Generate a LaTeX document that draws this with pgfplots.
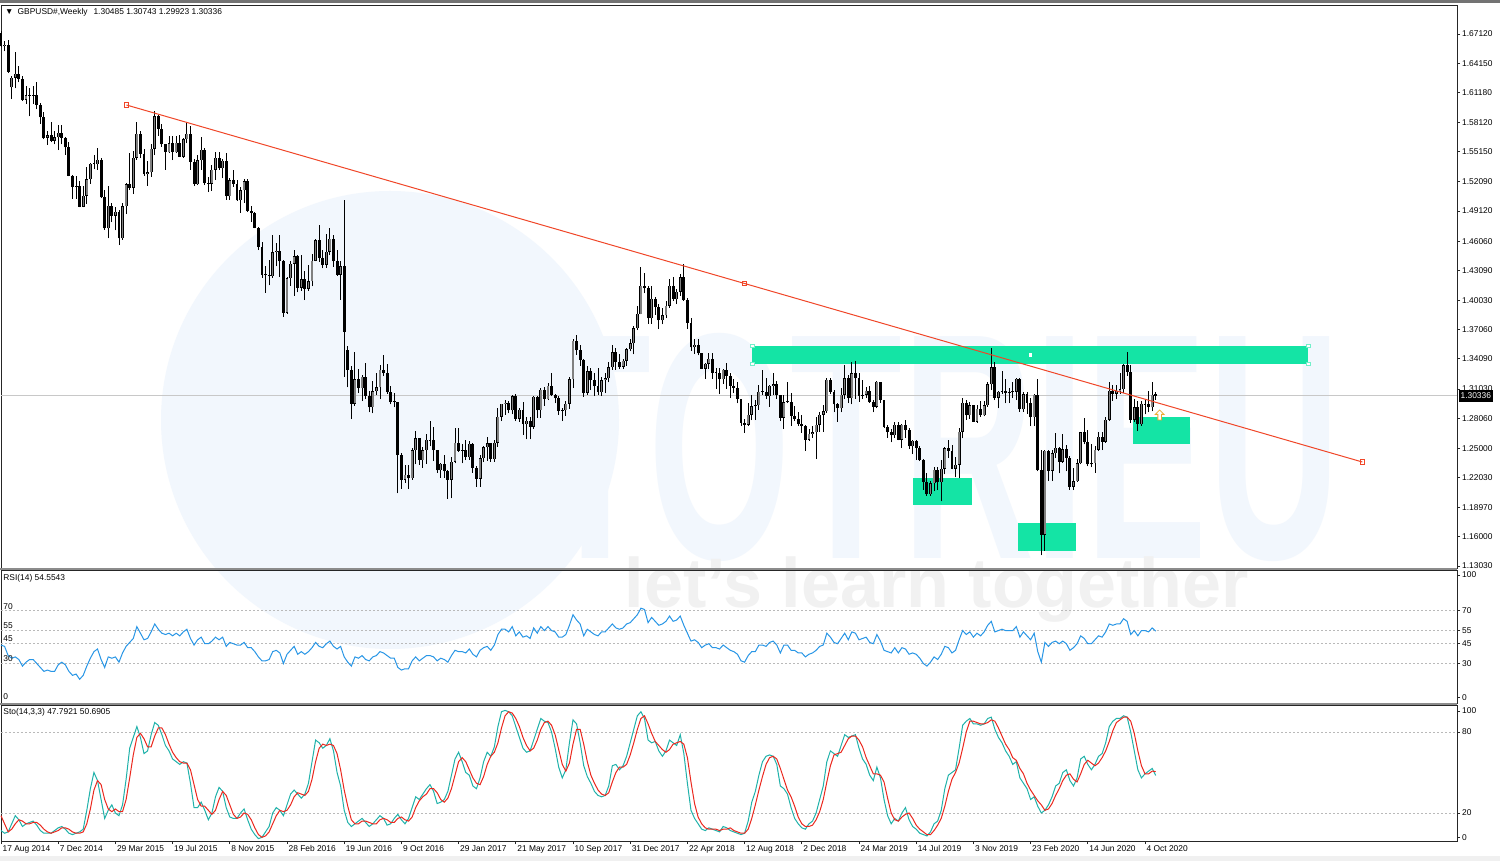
\documentclass[border=0pt]{standalone}
\usepackage{fontspec}
\setmainfont{Liberation Sans}
\usepackage{pgfplots}
\usepackage{pgfplotstable}
\pgfplotsset{compat=1.18}

\definecolor{mint}{RGB}{20,228,165}
\definecolor{trend}{RGB}{240,70,40}
\definecolor{bull}{RGB}{128,128,128}
\definecolor{rsiblue}{RGB}{40,150,230}
\definecolor{stomain}{RGB}{32,178,170}
\definecolor{stosig}{RGB}{235,40,30}
\definecolor{lvl}{RGB}{185,185,185}
\definecolor{pline}{RGB}{200,200,200}
\definecolor{wmblue}{RGB}{242,247,253}
\definecolor{wmgray}{RGB}{241,241,241}
\definecolor{arrowc}{RGB}{235,170,50}

\newcommand\tl{\fontsize{4.2}{5}\selectfont}

\pgfdeclareplotmark{hollowup}{%
  \pgfpathmoveto{\pgfqpoint{0pt}{2.5pt}}%
  \pgfpathlineto{\pgfqpoint{2.2pt}{0.3pt}}%
  \pgfpathlineto{\pgfqpoint{0.9pt}{0.3pt}}%
  \pgfpathlineto{\pgfqpoint{0.9pt}{-2.5pt}}%
  \pgfpathlineto{\pgfqpoint{-0.9pt}{-2.5pt}}%
  \pgfpathlineto{\pgfqpoint{-0.9pt}{0.3pt}}%
  \pgfpathlineto{\pgfqpoint{-2.2pt}{0.3pt}}%
  \pgfpathclose
  \pgfusepathqfillstroke}

% weekly GBPUSD candles, 17 Aug 2014 .. 25 Oct 2020 (row = week number)
\pgfplotstableread{
o h l c
1.6720 1.6745 1.6575 1.6585
1.6585 1.6640 1.6535 1.6600
1.6600 1.6650 1.6315 1.6330
1.6170 1.6280 1.6050 1.6265
1.6265 1.6525 1.6160 1.6310
1.6310 1.6385 1.6220 1.6255
1.6255 1.6280 1.6030 1.6045
1.6045 1.6185 1.6000 1.6090
1.6090 1.6160 1.5875 1.6085
1.6085 1.6185 1.6000 1.6095
1.6095 1.6225 1.5945 1.5995
1.5995 1.6010 1.5795 1.5865
1.5865 1.5920 1.5640 1.5655
1.5655 1.5730 1.5585 1.5680
1.5680 1.5815 1.5610 1.5625
1.5625 1.5730 1.5590 1.5660
1.5660 1.5785 1.5530 1.5710
1.5710 1.5785 1.5590 1.5655
1.5655 1.5665 1.5485 1.5560
1.5560 1.5615 1.5265 1.5270
1.5270 1.5280 1.5035 1.5160
1.5160 1.5270 1.5035 1.5165
1.5165 1.5215 1.4950 1.4955
1.4955 1.5165 1.4950 1.5065
1.5065 1.5355 1.4985 1.5235
1.5235 1.5405 1.5190 1.5395
1.5395 1.5485 1.5335 1.5390
1.5390 1.5550 1.5330 1.5435
1.5435 1.5450 1.5040 1.5050
1.5050 1.5130 1.4720 1.4735
1.4735 1.5165 1.4635 1.4965
1.4965 1.4995 1.4800 1.4865
1.4865 1.4955 1.4715 1.4905
1.4905 1.4920 1.4565 1.4635
1.4635 1.4995 1.4620 1.4960
1.4960 1.5195 1.4880 1.5185
1.5185 1.5500 1.5125 1.5150
1.5150 1.5525 1.5085 1.5455
1.5455 1.5815 1.5435 1.5700
1.5700 1.5725 1.5450 1.5495
1.5495 1.5545 1.5270 1.5285
1.5285 1.5420 1.5170 1.5305
1.5305 1.5590 1.5260 1.5545
1.5545 1.5930 1.5480 1.5875
1.5875 1.5890 1.5675 1.5745
1.5745 1.5795 1.5565 1.5590
1.5590 1.5595 1.5330 1.5510
1.5510 1.5675 1.5505 1.5600
1.5600 1.5675 1.5430 1.5510
1.5510 1.5675 1.5500 1.5605
1.5605 1.5690 1.5460 1.5465
1.5465 1.5650 1.5455 1.5640
1.5640 1.5815 1.5600 1.5700
1.5700 1.5780 1.5330 1.5415
1.5415 1.5440 1.5165 1.5185
1.5185 1.5480 1.5175 1.5430
1.5430 1.5660 1.5330 1.5535
1.5535 1.5555 1.5175 1.5195
1.5195 1.5260 1.5105 1.5190
1.5190 1.5385 1.5120 1.5330
1.5330 1.5510 1.5225 1.5455
1.5455 1.5510 1.5330 1.5345
1.5345 1.5440 1.5245 1.5425
1.5425 1.5505 1.5025 1.5060
1.5060 1.5245 1.5025 1.5225
1.5225 1.5330 1.5160 1.5185
1.5185 1.5230 1.5015 1.5020
1.5020 1.5155 1.4895 1.5125
1.5125 1.5240 1.4995 1.5215
1.5215 1.5240 1.4900 1.4915
1.4915 1.4960 1.4805 1.4895
1.4895 1.4900 1.4735 1.4740
1.4740 1.4745 1.4515 1.4550
1.4550 1.4600 1.4235 1.4265
1.4265 1.4350 1.4080 1.4260
1.4260 1.4415 1.4155 1.4250
1.4250 1.4665 1.4235 1.4495
1.4495 1.4590 1.4350 1.4510
1.4510 1.4670 1.4245 1.4400
1.4400 1.4410 1.3835 1.3880
1.3880 1.4240 1.3870 1.4230
1.4230 1.4400 1.4150 1.4375
1.4375 1.4515 1.4050 1.4450
1.4450 1.4460 1.4085 1.4130
1.4130 1.4460 1.4100 1.4220
1.4220 1.4300 1.4005 1.4120
1.4120 1.4360 1.4100 1.4200
1.4200 1.4470 1.4145 1.4405
1.4405 1.4630 1.4400 1.4615
1.4615 1.4770 1.4395 1.4435
1.4435 1.4515 1.4330 1.4365
1.4365 1.4680 1.4335 1.4500
1.4500 1.4735 1.4460 1.4630
1.4630 1.4665 1.4345 1.4400
1.4400 1.4515 1.4255 1.4265
1.4265 1.4405 1.4010 1.4350
1.4350 1.5020 1.3225 1.3680
1.3500 1.3540 1.3120 1.3300
1.3300 1.3340 1.2795 1.2950
1.2950 1.3480 1.2930 1.3200
1.3200 1.3305 1.3060 1.3110
1.3110 1.3240 1.2980 1.3225
1.3225 1.3370 1.3000 1.3030
1.3030 1.3080 1.2865 1.2915
1.2915 1.3185 1.2855 1.3080
1.3080 1.3260 1.3045 1.3120
1.3120 1.3345 1.3000 1.3300
1.3300 1.3445 1.3230 1.3265
1.3265 1.3355 1.3055 1.3070
1.3070 1.3135 1.2945 1.2970
1.2970 1.3060 1.2915 1.2975
1.2975 1.2975 1.2040 1.2430
1.2430 1.2455 1.2090 1.2180
1.2180 1.2330 1.2150 1.2230
1.2230 1.2330 1.2085 1.2195
1.2195 1.2500 1.2180 1.2480
1.2480 1.2675 1.2335 1.2600
1.2600 1.2600 1.2330 1.2380
1.2380 1.2515 1.2300 1.2480
1.2480 1.2640 1.2340 1.2585
1.2585 1.2775 1.2520 1.2580
1.2580 1.2720 1.2370 1.2480
1.2480 1.2480 1.2250 1.2275
1.2275 1.2350 1.2200 1.2340
1.2340 1.2435 1.2200 1.2265
1.2265 1.2280 1.1985 1.2180
1.2180 1.2415 1.1990 1.2365
1.2365 1.2705 1.2345 1.2555
1.2555 1.2705 1.2460 1.2475
1.2475 1.2545 1.2345 1.2480
1.2480 1.2580 1.2380 1.2410
1.2410 1.2570 1.2385 1.2545
1.2545 1.2550 1.2250 1.2300
1.2300 1.2315 1.2110 1.2190
1.2190 1.2430 1.2110 1.2400
1.2400 1.2520 1.2360 1.2510
1.2510 1.2615 1.2375 1.2550
1.2550 1.2550 1.2365 1.2390
1.2390 1.2580 1.2365 1.2555
1.2555 1.2905 1.2515 1.2820
1.2820 1.2950 1.2775 1.2950
1.2950 1.2990 1.2840 1.2965
1.2965 1.2985 1.2855 1.2885
1.2885 1.3045 1.2845 1.3030
1.3030 1.3050 1.2775 1.2800
1.2800 1.2910 1.2770 1.2890
1.2890 1.2975 1.2635 1.2745
1.2745 1.2815 1.2590 1.2780
1.2780 1.2815 1.2590 1.2720
1.2720 1.3030 1.2700 1.3025
1.3025 1.3030 1.2810 1.2885
1.2885 1.3115 1.2810 1.3095
1.3095 1.3125 1.2930 1.3000
1.3000 1.3165 1.2990 1.3135
1.3135 1.3270 1.3030 1.3040
1.3040 1.3050 1.2955 1.3010
1.3010 1.3030 1.2840 1.2880
1.2880 1.2905 1.2775 1.2885
1.2885 1.2980 1.2830 1.2950
1.2950 1.3220 1.2900 1.3200
1.3200 1.3615 1.3110 1.3595
1.3595 1.3655 1.3450 1.3495
1.3495 1.3550 1.3340 1.3395
1.3395 1.3405 1.3025 1.3065
1.3065 1.3340 1.3040 1.3285
1.3285 1.3320 1.3090 1.3190
1.3190 1.3260 1.3030 1.3130
1.3130 1.3320 1.3040 1.3070
1.3070 1.3225 1.3030 1.3190
1.3190 1.3260 1.3060 1.3210
1.3210 1.3380 1.3170 1.3325
1.3325 1.3550 1.3300 1.3475
1.3475 1.3520 1.3300 1.3380
1.3380 1.3460 1.3305 1.3330
1.3330 1.3410 1.3305 1.3390
1.3390 1.3515 1.3340 1.3505
1.3505 1.3615 1.3485 1.3565
1.3565 1.3745 1.3455 1.3720
1.3720 1.3945 1.3700 1.3865
1.3865 1.4345 1.3860 1.4150
1.4150 1.4285 1.4075 1.4125
1.4125 1.4145 1.3765 1.3820
1.3820 1.4145 1.3765 1.4020
1.4020 1.4035 1.3855 1.3935
1.3935 1.3970 1.3710 1.3800
1.3800 1.3930 1.3760 1.3850
1.3850 1.4000 1.3820 1.3950
1.3950 1.4220 1.3930 1.4150
1.4150 1.4245 1.4000 1.4015
1.4015 1.4120 1.3965 1.4090
1.4090 1.4275 1.4050 1.4240
1.4240 1.4375 1.3995 1.4010
1.4010 1.4030 1.3710 1.3775
1.3775 1.3825 1.3490 1.3525
1.3525 1.3615 1.3460 1.3550
1.3550 1.3615 1.3445 1.3465
1.3465 1.3470 1.3305 1.3310
1.3310 1.3370 1.3205 1.3360
1.3360 1.3470 1.3310 1.3410
1.3410 1.3470 1.3205 1.3270
1.3270 1.3315 1.3100 1.3265
1.3265 1.3315 1.3050 1.3200
1.3200 1.3310 1.3155 1.3300
1.3300 1.3365 1.3105 1.3235
1.3235 1.3265 1.3010 1.3135
1.3135 1.3200 1.3060 1.3115
1.3115 1.3170 1.2955 1.3000
1.3000 1.3005 1.2725 1.2760
1.2760 1.2800 1.2660 1.2740
1.2740 1.2965 1.2725 1.2840
1.2840 1.3045 1.2785 1.2925
1.2925 1.2990 1.2785 1.2935
1.2935 1.3145 1.2890 1.3075
1.3075 1.3300 1.3045 1.3070
1.3070 1.3215 1.3000 1.3030
1.3030 1.3145 1.2920 1.3135
1.3135 1.3260 1.3045 1.3150
1.3150 1.3185 1.3000 1.3045
1.3045 1.3045 1.2775 1.2810
1.2810 1.3045 1.2695 1.2970
1.2970 1.3175 1.2960 1.2975
1.2975 1.3060 1.2725 1.2830
1.2830 1.2930 1.2775 1.2795
1.2795 1.2865 1.2725 1.2745
1.2745 1.2840 1.2660 1.2725
1.2725 1.2735 1.2475 1.2585
1.2585 1.2700 1.2575 1.2645
1.2645 1.2730 1.2605 1.2665
1.2665 1.2815 1.2390 1.2740
1.2740 1.2865 1.2670 1.2840
1.2840 1.2935 1.2670 1.2875
1.2875 1.3215 1.2860 1.3195
1.3195 1.3215 1.3050 1.3075
1.3075 1.3095 1.2865 1.2945
1.2945 1.2955 1.2770 1.2905
1.2905 1.3110 1.2865 1.3045
1.3045 1.3350 1.3000 1.3210
1.3210 1.3245 1.2960 1.3010
1.3010 1.3380 1.2945 1.3260
1.3260 1.3385 1.3005 1.3210
1.3210 1.3270 1.2975 1.3035
1.3035 1.3195 1.3000 1.3045
1.3045 1.3125 1.3010 1.3085
1.3085 1.3135 1.2965 1.2970
1.2970 1.2995 1.2865 1.2920
1.2920 1.3180 1.2905 1.3175
1.3175 1.3175 1.2965 1.2990
1.2990 1.2995 1.2705 1.2715
1.2715 1.2740 1.2605 1.2665
1.2665 1.2695 1.2560 1.2630
1.2630 1.2765 1.2605 1.2740
1.2740 1.2765 1.2580 1.2585
1.2585 1.2745 1.2505 1.2740
1.2740 1.2785 1.2605 1.2690
1.2690 1.2710 1.2490 1.2520
1.2520 1.2580 1.2440 1.2575
1.2575 1.2580 1.2380 1.2500
1.2500 1.2520 1.2370 1.2380
1.2380 1.2390 1.2080 1.2160
1.2160 1.2250 1.2015 1.2030
1.2030 1.2170 1.2015 1.2145
1.2145 1.2310 1.2065 1.2280
1.2280 1.2310 1.2075 1.2155
1.2155 1.2385 1.1960 1.2290
1.2290 1.2510 1.2235 1.2500
1.2500 1.2585 1.2400 1.2475
1.2475 1.2530 1.2285 1.2290
1.2290 1.2410 1.2205 1.2330
1.2330 1.2710 1.2195 1.2670
1.2670 1.3010 1.2600 1.2960
1.2960 1.2990 1.2790 1.2835
1.2835 1.2975 1.2800 1.2935
1.2935 1.2935 1.2765 1.2770
1.2770 1.2935 1.2760 1.2900
1.2900 1.2985 1.2820 1.2835
1.2835 1.2980 1.2825 1.2935
1.2935 1.3175 1.2920 1.3150
1.3150 1.3515 1.3095 1.3325
1.3325 1.3375 1.2990 1.3015
1.3015 1.3080 1.2905 1.3075
1.3075 1.3285 1.3050 1.3085
1.3085 1.3200 1.2955 1.3060
1.3060 1.3115 1.2960 1.3070
1.3070 1.3175 1.3010 1.3075
1.3075 1.3210 1.2990 1.3205
1.3205 1.3210 1.2870 1.2895
1.2895 1.3070 1.2870 1.3050
1.3050 1.3070 1.2850 1.2960
1.2960 1.3010 1.2725 1.2815
1.2815 1.3050 1.2725 1.3045
1.3045 1.3200 1.2265 1.2280
1.2280 1.2485 1.1410 1.1620
1.1620 1.2485 1.1460 1.2475
1.2475 1.2485 1.2165 1.2270
1.2270 1.2485 1.2165 1.2450
1.2450 1.2650 1.2400 1.2505
1.2505 1.2515 1.2245 1.2365
1.2365 1.2645 1.2350 1.2490
1.2490 1.2530 1.2265 1.2405
1.2405 1.2420 1.2080 1.2110
1.2110 1.2295 1.2075 1.2165
1.2165 1.2395 1.2160 1.2345
1.2345 1.2670 1.2335 1.2665
1.2665 1.2810 1.2540 1.2565
1.2565 1.2685 1.2315 1.2335
1.2335 1.2545 1.2305 1.2345
1.2345 1.2520 1.2250 1.2485
1.2485 1.2670 1.2470 1.2615
1.2615 1.2670 1.2480 1.2565
1.2565 1.2815 1.2555 1.2790
1.2790 1.3170 1.2775 1.3085
1.3085 1.3145 1.2985 1.3055
1.3055 1.3145 1.3000 1.3085
1.3085 1.3265 1.3055 1.3100
1.3100 1.3355 1.3060 1.3345
1.3345 1.3480 1.3235 1.3280
1.3280 1.3345 1.2760 1.2790
1.2790 1.3005 1.2765 1.2915
1.2915 1.2985 1.2675 1.2745
1.2745 1.2985 1.2730 1.2950
1.2950 1.3000 1.2845 1.2945
1.2945 1.3080 1.2865 1.2915
1.2915 1.3175 1.2875 1.3045
1.30485 1.30743 1.29923 1.30336
}\candles

% RSI(14), one value per week
\pgfplotstableread[row sep=\\]{
r\\
44\\43\\36\\34\\35\\33\\28\\31\\33\\33\\30\\27\\24\\25\\24\\24\\
29\\31\\29\\24\\21\\22\\18\\21\\28\\34\\39\\41\\33\\27\\35\\34\\
35\\31\\38\\43\\46\\49\\58\\53\\48\\49\\54\\60\\56\\53\\52\\53\\
51\\53\\51\\54\\56\\49\\44\\48\\50\\45\\45\\47\\50\\48\\50\\43\\
46\\45\\44\\44\\46\\42\\42\\39\\35\\32\\32\\33\\39\\40\\38\\30\\
37\\40\\43\\37\\39\\37\\39\\42\\46\\43\\42\\45\\47\\43\\41\\43\\
35\\31\\28\\35\\34\\36\\33\\32\\35\\36\\39\\38\\36\\34\\34\\27\\
25\\26\\26\\32\\35\\32\\34\\36\\36\\35\\32\\34\\33\\31\\36\\40\\
39\\39\\38\\41\\37\\35\\40\\42\\43\\40\\44\\52\\56\\56\\54\\58\\
51\\54\\50\\51\\49\\57\\53\\58\\55\\58\\55\\54\\50\\50\\52\\59\\
67\\63\\60\\51\\56\\54\\52\\51\\54\\54\\57\\60\\57\\56\\57\\60\\
61\\64\\67\\72\\71\\61\\65\\62\\59\\60\\62\\66\\62\\63\\66\\59\\
53\\47\\48\\46\\42\\44\\45\\42\\42\\41\\44\\42\\40\\39\\37\\32\\
31\\36\\39\\39\\44\\44\\43\\46\\47\\44\\38\\44\\44\\40\\40\\38\\
38\\35\\37\\38\\40\\43\\44\\53\\50\\46\\45\\49\\53\\48\\54\\53\\
48\\49\\50\\46\\45\\52\\47\\40\\39\\38\\42\\38\\42\\41\\37\\38\\
37\\34\\30\\28\\31\\35\\33\\37\\43\\42\\38\\40\\48\\55\\52\\54\\
50\\53\\51\\54\\59\\62\\54\\55\\56\\55\\55\\55\\58\\50\\54\\51\\
48\\53\\39\\31\\46\\43\\46\\47\\45\\47\\45\\40\\42\\45\\51\\49\\
45\\45\\48\\51\\50\\54\\60\\59\\60\\60\\64\\62\\52\\55\\51\\55\\
55\\54\\57\\54.55\\
}\rsi

% Sto(14,3,3): k = main, d = signal
\pgfplotstableread[row sep=\\]{
k d\\
7 18\\5 12\\6 6\\12 8\\18 12\\15 15\\10 14\\12 12\\13 12\\14 13\\11 13\\7 11\\5 8\\5 6\\5 5\\7 6\\
9 7\\10 9\\8 9\\5 8\\4 6\\5 5\\6 5\\8 6\\22 12\\38 23\\50 37\\44 44\\30 41\\16 30\\22 23\\26 21\\
20 23\\18 21\\26 21\\45 30\\68 46\\76 63\\84 76\\76 79\\64 75\\66 69\\78 69\\87 77\\85 83\\78 83\\70 78\\66 71\\
60 65\\58 61\\56 58\\58 57\\57 57\\42 52\\24 41\\24 30\\28 25\\22 25\\15 22\\20 19\\32 22\\39 30\\36 36\\24 33\\
17 26\\16 19\\16 16\\20 17\\23 20\\15 19\\8 15\\4 9\\1 4\\2 2\\6 3\\10 6\\20 12\\24 18\\22 22\\18 21\\
26 22\\34 26\\37 32\\34 35\\31 34\\34 33\\42 36\\58 45\\74 58\\72 68\\68 71\\70 70\\75 71\\66 70\\50 64\\40 52\\
22 37\\13 25\\10 15\\12 12\\14 12\\16 14\\13 14\\10 13\\12 12\\15 12\\18 15\\16 16\\11 15\\12 13\\16 13\\19 16\\
15 17\\12 15\\16 14\\24 17\\32 24\\30 29\\34 32\\38 34\\41 38\\36 38\\27 35\\28 30\\30 28\\36 31\\48 38\\60 48\\
65 58\\58 61\\50 58\\48 52\\40 46\\38 42\\46 41\\58 47\\65 56\\62 62\\69 65\\84 72\\95 83\\96 92\\95 95\\92 94\\
84 90\\76 84\\68 76\\65 70\\66 66\\74 68\\82 74\\90 82\\88 87\\87 88\\80 85\\68 78\\54 67\\46 56\\52 51\\72 57\\
89 71\\86 82\\72 82\\55 71\\47 58\\42 48\\36 42\\33 37\\32 34\\33 33\\40 35\\55 43\\56 50\\52 54\\55 54\\62 56\\
72 63\\82 72\\92 82\\95 90\\90 92\\74 86\\72 79\\73 73\\66 70\\62 67\\66 65\\74 67\\72 71\\70 72\\78 73\\64 71\\
42 61\\22 43\\16 27\\12 17\\8 12\\7 9\\9 8\\8 8\\7 8\\6 7\\10 8\\9 8\\7 9\\6 7\\5 6\\4 5\\
5 5\\14 8\\28 16\\36 26\\48 37\\58 47\\62 56\\63 61\\62 62\\56 60\\40 53\\38 45\\34 37\\24 32\\16 25\\12 17\\
9 12\\8 10\\12 10\\14 11\\20 15\\30 21\\40 30\\58 43\\66 55\\64 63\\62 64\\70 65\\78 70\\76 75\\77 77\\78 77\\
68 74\\60 69\\56 61\\48 55\\44 49\\54 49\\46 48\\30 43\\18 31\\12 20\\16 15\\14 14\\20 17\\24 19\\15 20\\10 16\\
8 11\\5 8\\4 6\\3 4\\6 4\\12 7\\14 11\\22 16\\38 25\\48 36\\50 45\\52 50\\68 57\\85 68\\88 80\\90 88\\
86 88\\86 87\\85 86\\86 86\\90 87\\91 89\\82 88\\76 83\\72 77\\66 71\\62 67\\56 61\\58 59\\46 53\\42 49\\38 42\\
30 37\\32 33\\25 29\\20 26\\22 22\\26 23\\32 27\\40 33\\42 38\\50 44\\52 48\\44 49\\40 45\\46 43\\60 49\\62 56\\
56 59\\52 57\\56 55\\62 57\\64 61\\72 66\\84 73\\88 81\\90 87\\90 89\\92 91\\91 91\\80 88\\66 79\\52 66\\46 55\\
49 49\\51 49\\53 51\\47.79 50.69\\
}\sto

\pgfplotsset{
  mt/.style={
    scale only axis, width=728pt, anchor=south west,
    xmin=0, xmax=407.27, clip=false,
    axis line style={black!85, line width=0.45pt},
    tick align=outside, major tick length=1.6pt,
    tick style={black!85, line width=0.4pt},
    ytick pos=right, yticklabel pos=right,
    yticklabel style={font=\tl, anchor=west, inner sep=0pt, xshift=0.8pt},
    xticklabel style={font=\tl},
    xtick=\empty,
  },
  lev/.style={lvl, line width=0.35pt, dash pattern=on 1pt off 1pt, forget plot},
  candle/.style 2 args={draw=none, mark=none, forget plot,
    error bars/.cd, y dir=plus, y explicit, error mark=none,
    error bar style={draw=#1, line cap=butt, line width=#2}},
}

\begin{document}
\begin{tikzpicture}
\path[use as bounding box, fill=white] (0,0) rectangle (750pt,430.5pt);
\fill[black!55] (0,429pt) rectangle (750pt,430.5pt);
\fill[black!6] (0,0) rectangle (750pt,2.5pt);

% pale watermark of the screenshot
\fill[wmblue] (195pt,220.5pt) circle (114.5pt);
\node[text=wmblue, inner sep=0pt] at (470pt,207pt)
  {\resizebox{400pt}{112.5pt}{\bfseries TOTRIEU}};
\node[text=wmgray, inner sep=0pt] at (468.5pt,135.5pt)
  {\resizebox{312pt}{!}{\bfseries let’s learn together}};

% ---- price panel ----
\begin{axis}[mt, at={(0.5pt,146.5pt)}, height=281.5pt,
  ymin=1.12824, ymax=1.70069,
  ytick={1.67120,1.64150,1.61180,1.58120,1.55150,1.52090,1.49120,1.46060,1.43090,1.40030,1.37060,1.34090,1.31030,1.28060,1.25000,1.22030,1.18970,1.16000,1.13030},
  yticklabels={1.67120,1.64150,1.61180,1.58120,1.55150,1.52090,1.49120,1.46060,1.43090,1.40030,1.37060,1.34090,1.31030,1.28060,1.25000,1.22030,1.18970,1.16000,1.13030},
]
% current price line
\addplot[pline, line width=0.4pt, forget plot] coordinates {(0,1.30336)(407.27,1.30336)};
% rectangles
\addplot[fill=mint, draw=none, forget plot] coordinates {(210.2,1.3357)(365.7,1.3357)(365.7,1.3540)(210.2,1.3540)};
\addplot[fill=mint, draw=none, forget plot] coordinates {(255.2,1.1923)(271.5,1.1923)(271.5,1.2198)(255.2,1.2198)};
\addplot[fill=mint, draw=none, forget plot] coordinates {(284.6,1.1455)(300.6,1.1455)(300.6,1.1740)(284.6,1.1740)};
\addplot[fill=mint, draw=none, forget plot] coordinates {(316.5,1.2543)(332.5,1.2543)(332.5,1.2818)(316.5,1.2818)};
% wicks
\addplot[candle={black}{0.45pt}]
  table[x expr=\coordindex, y=l, y error expr=\thisrow{h}-\thisrow{l}] {\candles};
% bodies
\addplot[candle={black}{1.45pt}]
  table[x expr=\coordindex, y expr={min(\thisrow{o},\thisrow{c})},
        y error expr={max(abs(\thisrow{c}-\thisrow{o}),0.0008)}] {\candles};
% bull bodies filled grey (zero length for bear weeks)
\addplot[candle={bull}{0.7pt}]
  table[x expr=\coordindex, y expr={\thisrow{o}+0.0005},
        y error expr={max(\thisrow{c}-\thisrow{o}-0.001,0)}] {\candles};
% trend line
\addplot[trend, line width=0.5pt, mark=square, mark size=1.1pt,
  mark options={solid, fill=white}, forget plot]
  coordinates {(35.1,1.5990)(208.0,1.4175)(380.8,1.2360)};
% handles of the big rectangle
\addplot[only marks, mark=square*, mark size=0.9pt,
  mark options={draw=mint!60!white, fill=white}, forget plot]
  coordinates {(210.2,1.3540)(210.2,1.3357)(365.7,1.3540)(365.7,1.3357)};
\addplot[only marks, mark=square*, mark size=0.6pt, mark options={draw=white, fill=white}, forget plot]
  coordinates {(287.96,1.3449)};
% arrow object
\addplot[only marks, mark=hollowup, mark options={draw=arrowc, fill=white, line width=0.4pt}, forget plot]
  coordinates {(324.1,1.2838)};
\end{axis}

% ---- RSI panel ----
\begin{axis}[mt, at={(0.5pt,79pt)}, height=66.5pt,
  ymin=0, ymax=101,
  ytick={4.3,30,45,55,70,97.2}, yticklabels={0,30,45,55,70,100},
]
\addplot[lev] coordinates {(0,70)(407.27,70)};
\addplot[lev] coordinates {(0,55)(407.27,55)};
\addplot[lev] coordinates {(0,45)(407.27,45)};
\addplot[lev] coordinates {(0,30)(407.27,30)};
\addplot[rsiblue, line width=0.5pt] table[x expr=\coordindex, y=r] {\rsi};
\node[font=\tl, anchor=south west, inner sep=0.3pt] at (axis cs:0.4,70.5) {70};
\node[font=\tl, anchor=south west, inner sep=0.3pt] at (axis cs:0.4,55.5) {55};
\node[font=\tl, anchor=south west, inner sep=0.3pt] at (axis cs:0.4,45.5) {45};
\node[font=\tl, anchor=south west, inner sep=0.3pt] at (axis cs:0.4,30.5) {30};
\node[font=\tl, anchor=south west, inner sep=0.3pt] at (axis cs:0.4,1.5) {0};
\end{axis}

% ---- Stochastic panel ----
\begin{axis}[mt, at={(0.5pt,10pt)}, height=68pt,
  ymin=-0.74, ymax=100,
  ytick={2,20,80,95.6}, yticklabels={0,20,80,100},
  xtick={0,16,...,320}, xtick pos=left,
  xticklabels={17 Aug 2014,7 Dec 2014,29 Mar 2015,19 Jul 2015,8 Nov 2015,28 Feb 2016,19 Jun 2016,9 Oct 2016,29 Jan 2017,21 May 2017,10 Sep 2017,31 Dec 2017,22 Apr 2018,12 Aug 2018,2 Dec 2018,24 Mar 2019,14 Jul 2019,3 Nov 2019,23 Feb 2020,14 Jun 2020,4 Oct 2020},
  xticklabel style={anchor=north west, inner sep=0pt, xshift=0.6pt, yshift=-0.3pt},
]
\addplot[lev] coordinates {(0,80)(407.27,80)};
\addplot[lev] coordinates {(0,20)(407.27,20)};
\addplot[stomain, line width=0.5pt] table[x expr=\coordindex, y=k] {\sto};
\addplot[stosig, line width=0.5pt] table[x expr=\coordindex, y=d] {\sto};
\end{axis}

% panel separators
\fill[black!45] (0,145.4pt) rectangle (728.5pt,146.6pt);
\fill[black!45] (0,78.0pt) rectangle (728.5pt,79.1pt);

% labels of the terminal
\node[font=\tl, anchor=west, inner sep=0pt] at (2.3pt,424.5pt)
  {▼\hspace{2.2pt}GBPUSD\#,Weekly\hspace{3pt}1.30485 1.30743 1.29923 1.30336};
\node[font=\tl, anchor=west, inner sep=0pt] at (1.5pt,141.5pt) {RSI(14) 54.5543};
\node[font=\tl, anchor=west, inner sep=0pt] at (1.5pt,74.5pt) {Sto(14,3,3) 47.7921 50.6905};
\node[font=\tl, fill=black, text=white, anchor=west, inner xsep=0.8pt, inner ysep=0pt,
  minimum height=5.8pt] at (729.3pt,232.5pt) {1.30336};
\end{tikzpicture}
\end{document}
